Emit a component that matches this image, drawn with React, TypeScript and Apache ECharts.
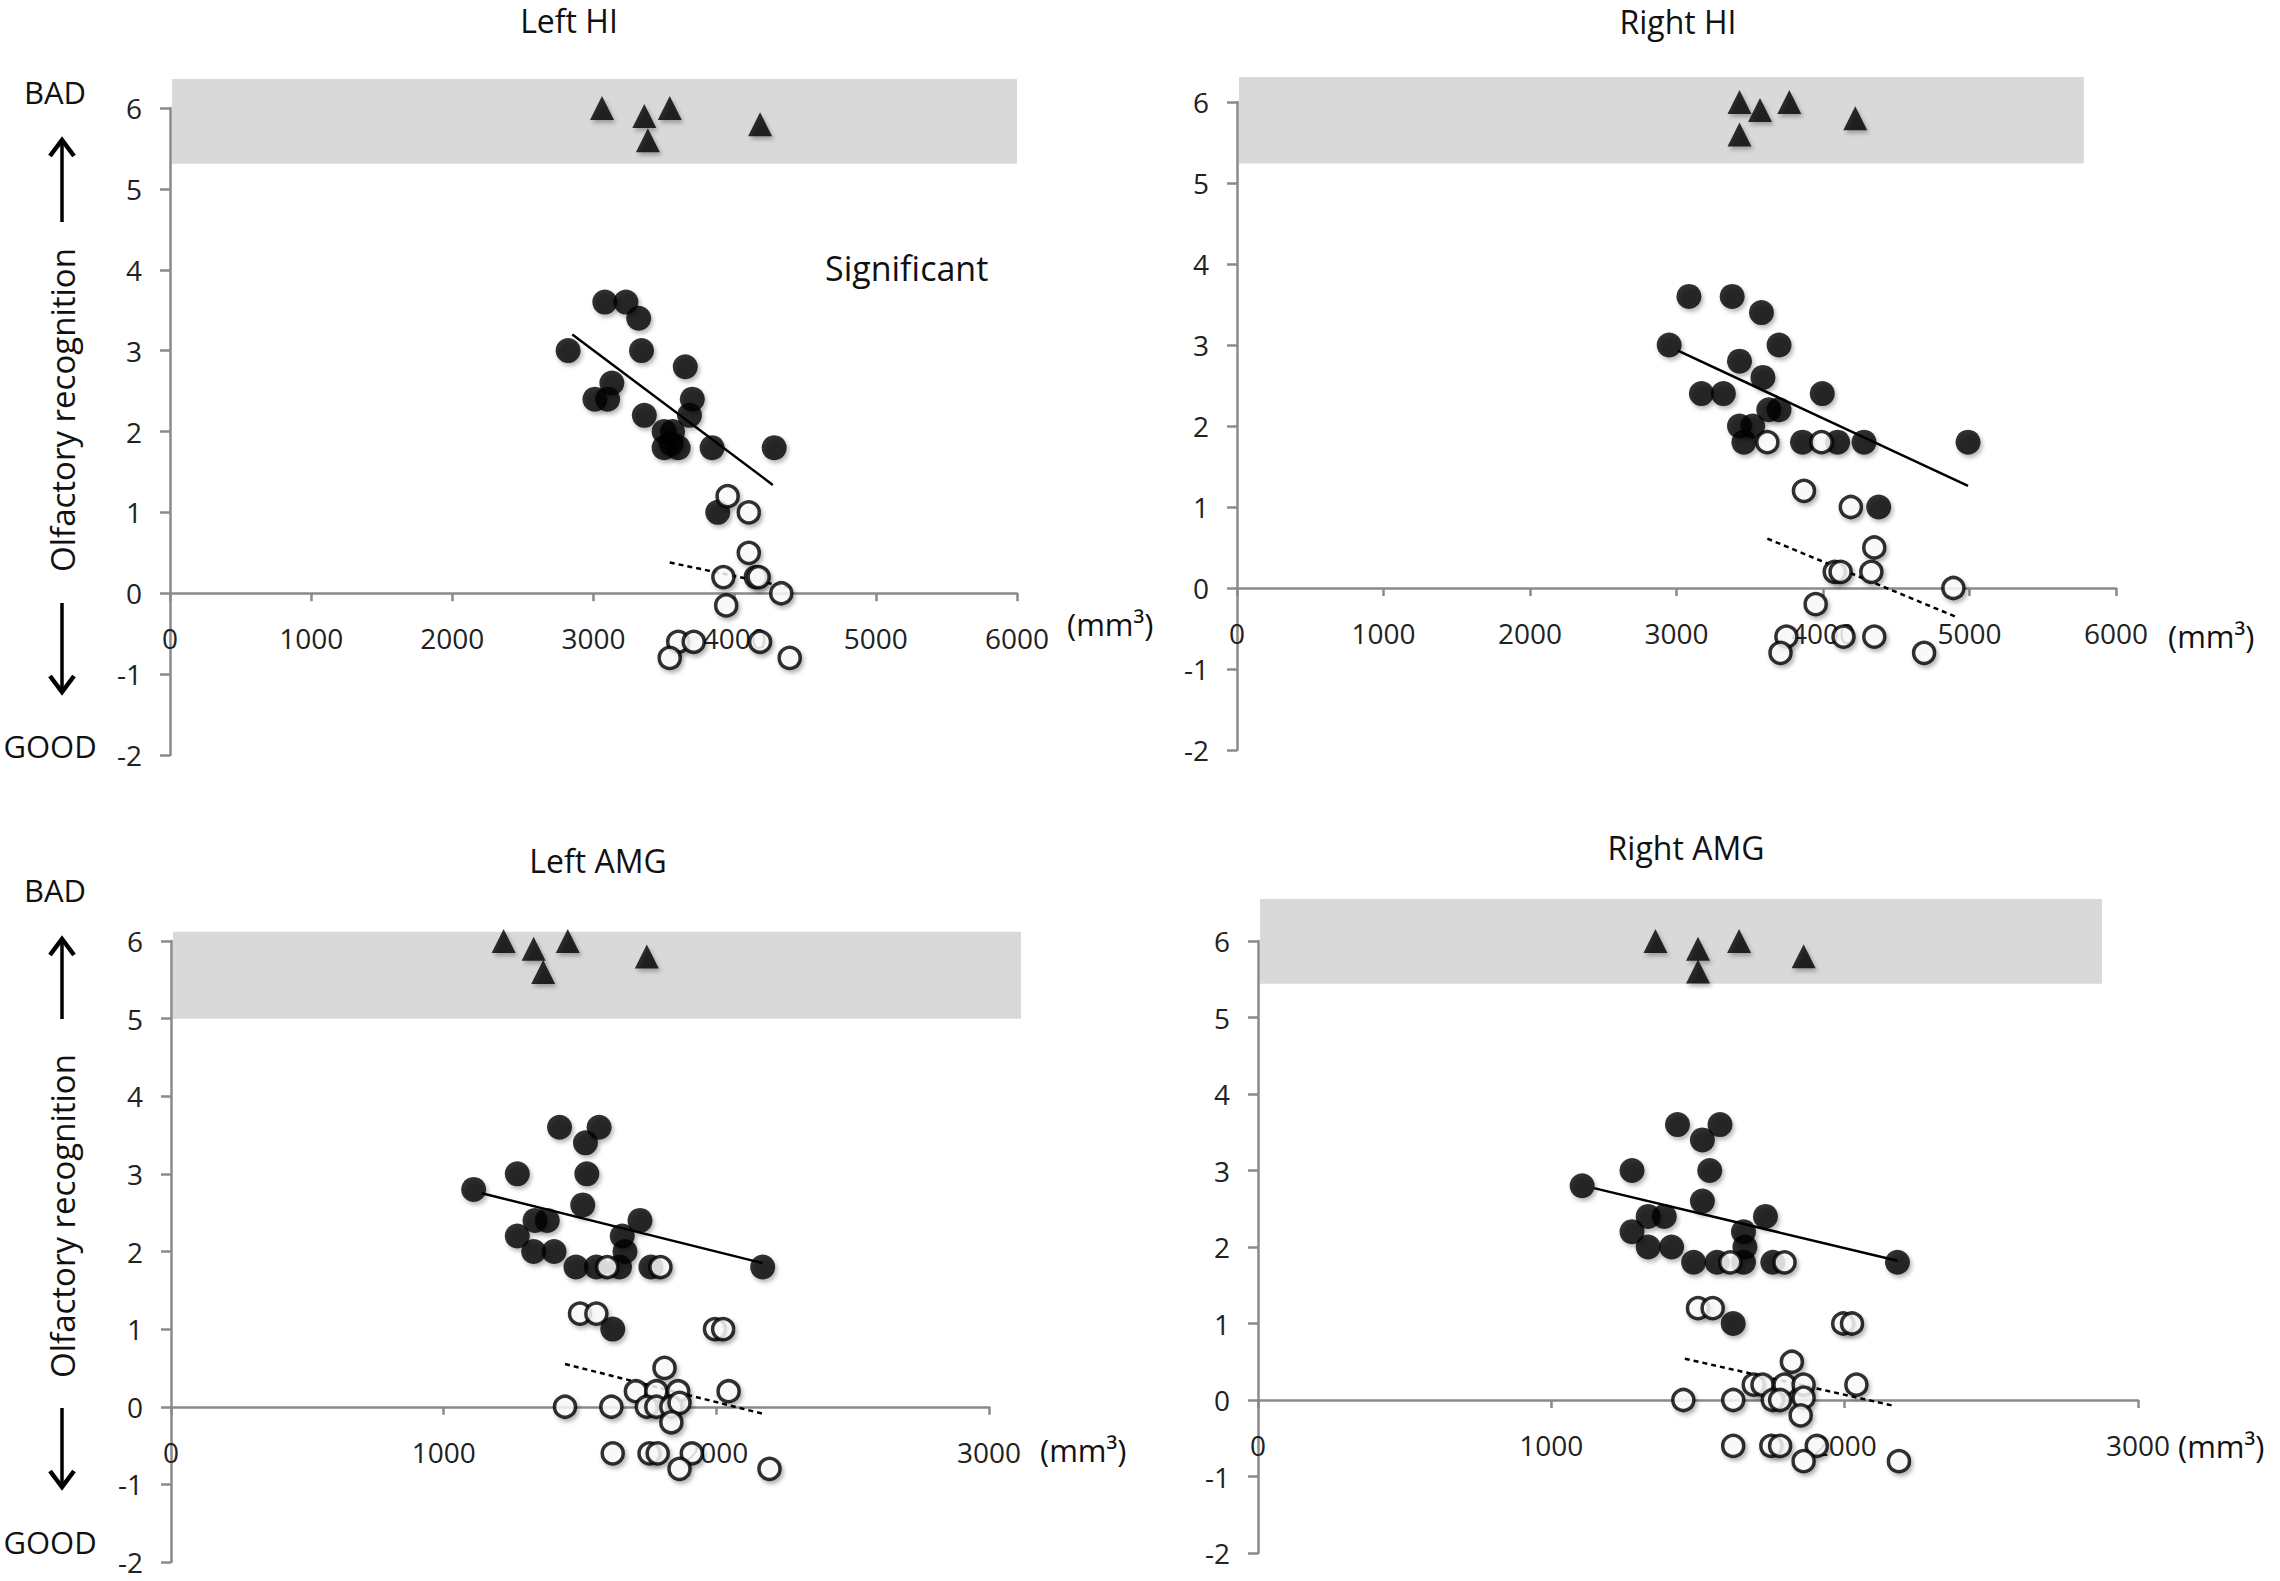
import React, { useEffect, useRef } from "react";
import * as echarts from "echarts";

// ---------- data ----------
const yTicks = [-2, -1, 0, 1, 2, 3, 4, 5, 6];
const yMin = -2;
const yMax = 6;
const panelTitles = ["Left HI", "Right HI", "Left AMG", "Right AMG"];
const xMaxes = [6000, 6000, 3000, 3000];

// gray zone: [xFrom, xTo, yFrom, yTo]
const bandLeftHI = [0, 6000, 5.31, 6.36];
const bandRightHI = [0, 5780, 5.24, 6.31];
const bandLeftAMG = [0, 3117, 5.0, 6.12];
const bandRightAMG = [0, 2877, 5.44, 6.55];

const triLeftHI = [[3060, 6.0], [3360, 5.9], [3385, 5.6], [3540, 6.0], [4180, 5.8]];
const filledLeftHI = [
  [2820, 3.0], [3080, 3.6], [3230, 3.6], [3320, 3.4], [3340, 3.0], [3650, 2.8], [3130, 2.6],
  [3010, 2.4], [3100, 2.4], [3360, 2.2], [3700, 2.4], [3680, 2.2], [3500, 2.0], [3560, 2.0],
  [3500, 1.8], [3550, 1.85], [3600, 1.8], [3840, 1.8], [4280, 1.8], [3880, 1.0],
];
const openLeftHI = [
  [3950, 1.2], [4100, 1.0], [4100, 0.5], [3920, 0.2], [4150, 0.2], [4170, 0.2], [4330, 0.0],
  [3940, -0.15], [3600, -0.6], [3710, -0.6], [4180, -0.6], [3540, -0.8], [4390, -0.8],
];
const solidLeftHI = [[2850, 3.2], [4270, 1.34]];
const dottedLeftHI = [[3540, 0.38], [4390, 0.07]];

const triRightHI = [[3430, 6.0], [3570, 5.9], [3770, 6.0], [4220, 5.8], [3430, 5.6]];
const filledRightHI = [
  [2950, 3.0], [3085, 3.6], [3380, 3.6], [3580, 3.4], [3700, 3.0], [3430, 2.8], [3590, 2.6],
  [3170, 2.4], [3320, 2.4], [3995, 2.4], [3630, 2.2], [3700, 2.2], [3430, 2.0], [3520, 2.0],
  [3460, 1.8], [3860, 1.8], [4100, 1.8], [4280, 1.8], [4990, 1.8], [4380, 1.0],
];
const openRightHI = [
  [3620, 1.8], [3990, 1.8], [3870, 1.2], [4190, 1.0], [4350, 0.5], [4080, 0.2], [4120, 0.2],
  [4330, 0.2], [4890, 0.0], [3950, -0.2], [3750, -0.6], [4140, -0.6], [4350, -0.6],
  [3710, -0.8], [4690, -0.8],
];
const solidRightHI = [[3010, 2.93], [4990, 1.26]];
const dottedRightHI = [[3620, 0.61], [4900, -0.35]];

const triLeftAMG = [[1220, 6.0], [1330, 5.9], [1365, 5.6], [1455, 6.0], [1745, 5.8]];
const filledLeftAMG = [
  [1110, 2.8], [1270, 3.0], [1425, 3.6], [1570, 3.6], [1520, 3.4], [1525, 3.0], [1510, 2.6],
  [1335, 2.4], [1380, 2.4], [1720, 2.4], [1270, 2.2], [1655, 2.2], [1330, 2.0], [1405, 2.0],
  [1665, 2.0], [1485, 1.8], [1560, 1.8], [1645, 1.8], [1760, 1.8], [2170, 1.8], [1620, 1.0],
];
const openLeftAMG = [
  [1600, 1.8], [1795, 1.8], [1500, 1.2], [1560, 1.2], [1995, 1.0], [2025, 1.0], [1810, 0.5],
  [1705, 0.2], [1780, 0.2], [1860, 0.2], [2045, 0.2], [1445, 0.0], [1615, 0.0], [1745, 0.0],
  [1780, 0.0], [1835, 0.0], [1865, 0.05], [1835, -0.2], [1620, -0.6], [1755, -0.6],
  [1785, -0.6], [1910, -0.6], [1865, -0.8], [2195, -0.8],
];
const solidLeftAMG = [[1140, 2.75], [2170, 1.85]];
const dottedLeftAMG = [[1445, 0.55], [2170, -0.09]];

const triRightAMG = [[1355, 6.0], [1500, 5.9], [1500, 5.6], [1640, 6.0], [1860, 5.8]];
const filledRightAMG = [
  [1105, 2.8], [1275, 3.0], [1430, 3.6], [1575, 3.6], [1515, 3.4], [1540, 3.0], [1515, 2.6],
  [1330, 2.4], [1385, 2.4], [1730, 2.4], [1275, 2.2], [1655, 2.2], [1330, 2.0], [1410, 2.0],
  [1660, 2.0], [1485, 1.8], [1565, 1.8], [1655, 1.8], [1755, 1.8], [2180, 1.8], [1620, 1.0],
];
const openRightAMG = [
  [1610, 1.8], [1795, 1.8], [1500, 1.2], [1550, 1.2], [1995, 1.0], [2025, 1.0], [1820, 0.5],
  [1690, 0.2], [1720, 0.2], [1795, 0.2], [1860, 0.2], [2040, 0.2], [1450, 0.0], [1620, 0.0],
  [1755, 0.0], [1780, 0.0], [1860, 0.03], [1850, -0.2], [1620, -0.6], [1750, -0.6],
  [1780, -0.6], [1905, -0.6], [1860, -0.8], [2185, -0.8],
];
const solidRightAMG = [[1145, 2.77], [2180, 1.82]];
const dottedRightAMG = [[1455, 0.54], [2160, -0.07]];

const bands = [bandLeftHI, bandRightHI, bandLeftAMG, bandRightAMG];
const triangles = [triLeftHI, triRightHI, triLeftAMG, triRightAMG];
const filled = [filledLeftHI, filledRightHI, filledLeftAMG, filledRightAMG];
const opens = [openLeftHI, openRightHI, openLeftAMG, openRightAMG];
const solids = [solidLeftHI, solidRightHI, solidLeftAMG, solidRightAMG];
const dotteds = [dottedLeftHI, dottedRightHI, dottedLeftAMG, dottedRightAMG];

// ---------- layout ----------
const W = 2280;
const H = 1581;
const FONT = "Open Sans";
const AXIS_GRAY = "#8a8a8a";
const gridBoxes = [
  { left: 170, top: 108, width: 847, height: 647 },
  { left: 1237, top: 102, width: 879, height: 648 },
  { left: 171, top: 941, width: 818, height: 621 },
  { left: 1258, top: 941, width: 880, height: 612 },
];
const titlePos = [
  [569, 20],
  [1678, 21],
  [598, 860],
  [1686, 847],
];
const unitPos = [
  [1067, 624],
  [2168, 636],
  [1040, 1450],
  [2178, 1446],
];

const shadow = {
  shadowBlur: 4,
  shadowColor: "rgba(0,0,0,0.35)",
  shadowOffsetX: 2,
  shadowOffsetY: 3,
};

function sideLabels(top: number, mid: number, bot: number, upTip: number, upEnd: number, downStart: number, downTip: number) {
  const style = { fill: "#111", font: `31px "${FONT}"`, textAlign: "center", textVerticalAlign: "middle" };
  const lineStyle = { stroke: "#000", lineWidth: 3.5 };
  return [
    { type: "text", x: 55, y: top, style: { ...style, text: "BAD" } },
    { type: "line", shape: { x1: 62, y1: upEnd, x2: 62, y2: upTip + 2 }, style: lineStyle },
    { type: "polyline", shape: { points: [[50, upTip + 16], [62, upTip], [74, upTip + 16]] }, style: { ...lineStyle, fill: null, lineWidth: 4.5 } },
    {
      type: "text", x: 62, y: mid, rotation: Math.PI / 2,
      style: { ...style, font: `33px "${FONT}"`, text: "Olfactory recognition" },
    },
    { type: "line", shape: { x1: 62, y1: downStart, x2: 62, y2: downTip - 2 }, style: lineStyle },
    { type: "polyline", shape: { points: [[50, downTip - 16], [62, downTip], [74, downTip - 16]] }, style: { ...lineStyle, fill: null, lineWidth: 4.5 } },
    { type: "text", x: 50, y: bot, style: { ...style, text: "GOOD" } },
  ];
}

function buildOption() {
  const grid = gridBoxes.map((g) => ({ ...g, containLabel: false }));
  // x axis sits at y = 0: shift it up from the grid bottom by the share of the y range below zero
  const xAxis = xMaxes.map((mx, i) => ({
    type: "value",
    gridIndex: i,
    min: 0,
    max: mx,
    interval: 1000,
    position: "bottom",
    offset: -gridBoxes[i].height * ((0 - yMin) / (yMax - yMin)),
    axisLine: { show: true, onZero: false, lineStyle: { color: AXIS_GRAY, width: 2.5 } },
    axisTick: { show: true, length: 8, lineStyle: { color: AXIS_GRAY, width: 2.5 } },
    axisLabel: {
      margin: 31,
      fontSize: 28,
      color: "#222",
      fontFamily: FONT,
      formatter: (v: number) => String(v),
    },
    splitLine: { show: false },
  }));
  const yAxis = xMaxes.map((_, i) => ({
    type: "value",
    gridIndex: i,
    min: yMin,
    max: yMax,
    interval: 1,
    axisLine: { show: true, onZero: false, lineStyle: { color: AXIS_GRAY, width: 2.5 } },
    axisTick: { show: true, length: 10, lineStyle: { color: AXIS_GRAY, width: 2.5 } },
    axisLabel: { margin: 28, fontSize: 28, color: "#222", fontFamily: FONT, formatter: (v: number) => String(v) },
    splitLine: { show: false },
  }));

  const series: any[] = [];
  for (let i = 0; i < 4; i++) {
    series.push({
      type: "custom",
      xAxisIndex: i,
      yAxisIndex: i,
      z: -1,
      clip: false,
      silent: true,
      data: [bands[i]],
      encode: { x: [0, 1], y: [2, 3] },
      renderItem: (params: any, api: any) => {
        const p0 = api.coord([api.value(0), api.value(3)]);
        const p1 = api.coord([api.value(1), api.value(2)]);
        return {
          type: "rect",
          shape: { x: p0[0] + 2, y: p0[1], width: p1[0] - p0[0] - 2, height: p1[1] - p0[1] },
          style: { fill: "#d9d9d9" },
        };
      },
    });
    series.push({
      type: "scatter",
      xAxisIndex: i,
      yAxisIndex: i,
      symbol: "triangle",
      symbolSize: 24,
      itemStyle: { color: "#000", ...shadow },
      data: triangles[i],
      z: 3,
    });
    series.push({
      type: "scatter",
      xAxisIndex: i,
      yAxisIndex: i,
      symbol: "circle",
      symbolSize: 25,
      itemStyle: { color: "#000", ...shadow },
      data: filled[i],
      z: 3,
    });
    series.push({
      type: "line",
      xAxisIndex: i,
      yAxisIndex: i,
      symbol: "none",
      lineStyle: { color: "#000", width: 2.5 },
      data: solids[i],
      z: 4,
    });
    series.push({
      type: "line",
      xAxisIndex: i,
      yAxisIndex: i,
      symbol: "none",
      lineStyle: { color: "#000", width: 2.5, type: [5, 4] },
      data: dotteds[i],
      z: 4,
    });
    series.push({
      type: "scatter",
      xAxisIndex: i,
      yAxisIndex: i,
      symbol: "circle",
      symbolSize: 21,
      itemStyle: { color: "#fff", borderColor: "#000", borderWidth: 3.5, ...shadow },
      data: opens[i],
      z: 5,
    });
  }

  const textStyle = { fill: "#111", textAlign: "center", textVerticalAlign: "middle" };
  const graphic: any[] = [];
  panelTitles.forEach((t, i) => {
    graphic.push({ type: "text", x: titlePos[i][0], y: titlePos[i][1], style: { ...textStyle, font: `32px "${FONT}"`, text: t } });
    graphic.push({
      type: "text", x: unitPos[i][0], y: unitPos[i][1],
      style: { ...textStyle, textAlign: "left", font: `31px "${FONT}"`, text: "(mm³)" },
    });
  });
  graphic.push({ type: "text", x: 825, y: 268, style: { ...textStyle, textAlign: "left", font: `34px "${FONT}"`, text: "Significant" } });
  graphic.push(...sideLabels(92, 410, 746, 140, 222, 603, 692));
  graphic.push(...sideLabels(890, 1216, 1542, 939, 1019, 1408, 1487));

  return { animation: false, backgroundColor: "#fff", grid, xAxis, yAxis, series, graphic };
}

export default function App() {
  const ref = useRef<HTMLDivElement>(null);
  useEffect(() => {
    document.body.style.margin = "0";
    if (!ref.current) return;
    const chart = echarts.init(ref.current, undefined, { renderer: "svg", width: W, height: H });
    chart.setOption(buildOption() as any);
    return () => chart.dispose();
  }, []);
  return <div ref={ref} style={{ width: W, height: H, background: "#fff" }} />;
}
